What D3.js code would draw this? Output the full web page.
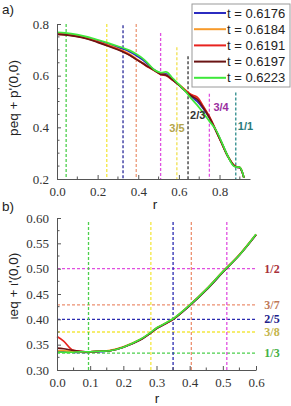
<!DOCTYPE html>
<html>
<head>
<meta charset="utf-8">
<script src="https://cdn.jsdelivr.net/npm/d3@7"></script>
<style>
  body { margin: 0; background: #fff; }
  svg { display: block; }
  .tick-label { font-family: "Liberation Serif", serif; font-size: 13px; fill: #333; }
  .ax-title { font-family: "Liberation Sans", Arial, sans-serif; font-size: 13.5px; fill: #222; }
</style>
</head>
<body>
<svg id="chart" width="291" height="406"></svg>
<script>
// ---- data: panel a) peq + p'(0,0) vs r
const seriesNames = ["t = 0.6176", "t = 0.6184", "t = 0.6191", "t = 0.6197", "t = 0.6223"]
const seriesColors = ["#2b2bc0", "#f79a2a", "#e8231f", "#6a1414", "#3ee83a"]
const rA = [0, 0.04, 0.1, 0.15, 0.2, 0.25, 0.3, 0.33, 0.36, 0.39, 0.42, 0.45, 0.48, 0.51, 0.54, 0.57, 0.6, 0.63, 0.66, 0.69, 0.72, 0.75, 0.78, 0.81, 0.84, 0.87, 0.89, 0.9, 0.91, 0.92]
const pBlue   = [0.764, 0.762, 0.755, 0.746, 0.735, 0.723, 0.709, 0.702, 0.692, 0.678, 0.662, 0.642, 0.622, 0.609, 0.606, 0.585, 0.565, 0.543, 0.52, 0.5, 0.472, 0.437, 0.392, 0.342, 0.29, 0.252, 0.245, 0.244, 0.23, 0.205]
const pOrange = [0.762, 0.76, 0.753, 0.744, 0.732, 0.719, 0.704, 0.694, 0.682, 0.666, 0.65, 0.634, 0.62, 0.607, 0.602, 0.584, 0.566, 0.546, 0.526, 0.512, 0.478, 0.44, 0.391, 0.341, 0.29, 0.254, 0.246, 0.245, 0.231, 0.205]
const pRed    = [0.761, 0.759, 0.752, 0.743, 0.731, 0.717, 0.702, 0.692, 0.679, 0.663, 0.648, 0.632, 0.619, 0.605, 0.599, 0.582, 0.565, 0.545, 0.527, 0.517, 0.482, 0.442, 0.392, 0.34, 0.289, 0.254, 0.245, 0.245, 0.23, 0.205]
const pDark   = [0.76, 0.758, 0.751, 0.742, 0.729, 0.715, 0.7, 0.69, 0.678, 0.663, 0.649, 0.634, 0.62, 0.606, 0.601, 0.583, 0.563, 0.541, 0.522, 0.508, 0.476, 0.438, 0.39, 0.34, 0.289, 0.253, 0.245, 0.244, 0.23, 0.205]
const pGreen  = [0.768, 0.766, 0.759, 0.75, 0.739, 0.727, 0.714, 0.706, 0.697, 0.684, 0.668, 0.646, 0.622, 0.612, 0.614, 0.59, 0.566, 0.541, 0.512, 0.486, 0.456, 0.424, 0.393, 0.344, 0.29, 0.25, 0.246, 0.246, 0.232, 0.205]
const seriesA = [pBlue, pOrange, pRed, pDark, pGreen]

// rational surfaces in a): r position, top value, colour, label
const surfA = [
  { r: 0.045, top: 0.8, c: "#4cd04c", label: "" },
  { r: 0.245, top: 0.8, c: "#f4e840", label: "" },
  { r: 0.325, top: 0.795, c: "#2a2a9a", label: "" },
  { r: 0.39, top: 0.8, c: "#ec9a78", label: "" },
  { r: 0.51, top: 0.765, c: "#e050e0", label: "" },
  { r: 0.59, top: 0.71, c: "#f0e050", label: "3/5", lc: "#b4a44a", lr: 0.553, lv: 0.382 },
  { r: 0.645, top: 0.675, c: "#333333", label: "2/3", lc: "#333333", lr: 0.655, lv: 0.432 },
  { r: 0.75, top: 0.53, c: "#e050e0", label: "3/4", lc: "#9a2ea0", lr: 0.77, lv: 0.463 },
  { r: 0.88, top: 0.535, c: "#2a8a8a", label: "1/1", lc: "#2a7a7a", lr: 0.89, lv: 0.39 }
]
const ticksAx = [0, 0.2, 0.4, 0.6, 0.8]
const ticksAy = [0.2, 0.4, 0.6, 0.8]

// ---- data: panel b) ieq + i'(0,0) vs r
const rB = [0, 0.02, 0.045, 0.07, 0.1, 0.13, 0.16, 0.2, 0.25, 0.28, 0.3, 0.35, 0.4, 0.45, 0.5, 0.55, 0.6]
const iBlue   = [0.336, 0.336, 0.335, 0.335, 0.335, 0.336, 0.338, 0.345, 0.359, 0.372, 0.382, 0.4, 0.427, 0.458, 0.493, 0.527, 0.567]
const iOrange = [0.338, 0.338, 0.337, 0.336, 0.336, 0.337, 0.339, 0.346, 0.36, 0.373, 0.383, 0.401, 0.428, 0.459, 0.494, 0.528, 0.568]
const iRed    = [0.366, 0.357, 0.34, 0.337, 0.336, 0.337, 0.338, 0.345, 0.359, 0.372, 0.382, 0.4, 0.428, 0.459, 0.494, 0.527, 0.567]
const iDark   = [0.343, 0.342, 0.339, 0.337, 0.336, 0.337, 0.338, 0.345, 0.359, 0.372, 0.382, 0.4, 0.427, 0.458, 0.493, 0.527, 0.567]
const iGreen  = [0.335, 0.335, 0.335, 0.336, 0.336, 0.337, 0.338, 0.345, 0.36, 0.373, 0.383, 0.401, 0.428, 0.459, 0.494, 0.527, 0.568]
const seriesB = [iBlue, iOrange, iRed, iDark, iGreen]

const vSurfB = [
  { r: 0.095, c: "#4cd04c" },
  { r: 0.283, c: "#f4e840" },
  { r: 0.35, c: "#2a2ab0" },
  { r: 0.405, c: "#ec9070" },
  { r: 0.512, c: "#e050e0" }
]
const hSurfB = [
  { v: 0.5, c: "#e050e0", label: "1/2", lc: "#a8303a" },
  { v: 0.4286, c: "#ec9070", label: "3/7", lc: "#c07858" },
  { v: 0.4, c: "#2a2ab0", label: "2/5", lc: "#20208a" },
  { v: 0.375, c: "#f4e840", label: "3/8", lc: "#c4b44a" },
  { v: 0.3333, c: "#4cd04c", label: "1/3", lc: "#44b044" }
]
const ticksBx = [0, 0.1, 0.2, 0.3, 0.4, 0.5, 0.6]
const ticksBy = [0.3, 0.35, 0.4, 0.45, 0.5, 0.55, 0.6]

const svg = d3.select("#chart")

// ===== panel a
const xA = d3.scaleLinear().domain([0, 0.95]).range([57, 250])
const yA = d3.scaleLinear().domain([0.2, 0.8]).range([179, 24])

const gA = svg.append("g")
surfA.forEach(s => {
  gA.append("line")
    .attr("x1", xA(s.r)).attr("x2", xA(s.r))
    .attr("y1", yA(s.top)).attr("y2", yA(0.2))
    .attr("stroke", s.c).attr("stroke-width", 1.3)
    .attr("stroke-dasharray", "3,2")
})

const lineA = d3.line().x((d, i) => xA(rA[i])).y(d => yA(d)).curve(d3.curveCatmullRom)
seriesA.forEach((s, k) => {
  gA.append("path")
    .attr("d", lineA(s))
    .attr("fill", "none")
    .attr("stroke", seriesColors[k])
    .attr("stroke-width", 1.7)
})

surfA.filter(s => s.label).forEach(s => {
  gA.append("text")
    .attr("x", xA(s.lr)).attr("y", yA(s.lv))
    .attr("font-family", "Liberation Sans, Arial, sans-serif")
    .attr("font-size", 11)
    .attr("font-weight", "bold")
    .attr("fill", s.lc)
    .text(s.label)
})

// axes a)
const axAx = gA.append("g").attr("transform", `translate(0,${yA(0.2)})`)
  .call(d3.axisBottom(xA).tickValues(ticksAx).tickFormat(d3.format(".1f")).tickSizeInner(-4).tickSizeOuter(0).tickPadding(8))
axAx.append("g").selectAll("line").data(d3.range(0.1, 0.95, 0.2))
  .join("line").attr("x1", d => xA(d)).attr("x2", d => xA(d)).attr("y1", 0).attr("y2", -2.5).attr("stroke", "#555")
const axAy = gA.append("g").attr("transform", `translate(${xA(0)},0)`)
  .call(d3.axisLeft(yA).tickValues(ticksAy).tickFormat(d3.format(".1f")).tickSizeInner(-4).tickSizeOuter(0).tickPadding(8))
axAy.append("g").selectAll("line").data([0.25, 0.3, 0.35, 0.45, 0.5, 0.55, 0.65, 0.7, 0.75])
  .join("line").attr("y1", d => yA(d)).attr("y2", d => yA(d)).attr("x1", 0).attr("x2", 2.5).attr("stroke", "#555")

// legend
const leg = svg.append("g").attr("transform", "translate(192,4)")
leg.append("rect").attr("width", 98).attr("height", 83)
  .attr("fill", "#fff").attr("stroke", "#9a9a9a").attr("stroke-width", 1)
seriesNames.forEach((n, i) => {
  const yy = 9 + i * 16.2
  leg.append("line").attr("x1", 2).attr("x2", 34).attr("y1", yy).attr("y2", yy)
    .attr("stroke", seriesColors[i]).attr("stroke-width", 2)
  leg.append("text").attr("x", 35).attr("y", yy + 4.5)
    .attr("font-family", "Liberation Sans, Arial, sans-serif").attr("font-size", 13)
    .attr("fill", "#222").text(n)
})

svg.append("text").attr("class", "ax-title").attr("x", 155).attr("y", 209).attr("text-anchor", "middle").text("r")
svg.append("text").attr("class", "ax-title")
  .attr("transform", "translate(18,98) rotate(-90)")
  .attr("text-anchor", "middle").text("peq + p'(0,0)")
svg.append("text").attr("class", "ax-title").attr("x", 2).attr("y", 14).text("a)")

// ===== panel b
const xB = d3.scaleLinear().domain([0, 0.6]).range([57, 256])
const yB = d3.scaleLinear().domain([0.3, 0.6]).range([370, 218])
const gB = svg.append("g")

hSurfB.forEach(s => {
  gB.append("line")
    .attr("x1", xB(0)).attr("x2", xB(0.6))
    .attr("y1", yB(s.v)).attr("y2", yB(s.v))
    .attr("stroke", s.c).attr("stroke-width", 1.3).attr("stroke-dasharray", "3,2")
  gB.append("text")
    .attr("x", 272).attr("y", yB(s.v) + 4)
    .attr("text-anchor", "middle")
    .attr("font-family", "Liberation Serif, serif").attr("font-size", 12)
    .attr("font-weight", "bold")
    .attr("fill", s.lc).text(s.label)
})
vSurfB.forEach(s => {
  gB.append("line")
    .attr("x1", xB(s.r)).attr("x2", xB(s.r))
    .attr("y1", yB(0.592)).attr("y2", yB(0.3))
    .attr("stroke", s.c).attr("stroke-width", 1.3).attr("stroke-dasharray", "3,2")
})

const lineB = d3.line().x((d, i) => xB(rB[i])).y(d => yB(d)).curve(d3.curveCatmullRom)
seriesB.forEach((s, k) => {
  gB.append("path")
    .attr("d", lineB(s))
    .attr("fill", "none")
    .attr("stroke", seriesColors[k])
    .attr("stroke-width", 1.7)
})

const axBx = gB.append("g").attr("transform", `translate(0,${yB(0.3)})`)
  .call(d3.axisBottom(xB).tickValues(ticksBx).tickFormat(d3.format(".1f")).tickSizeInner(-4).tickSizeOuter(0).tickPadding(8))
axBx.append("g").selectAll("line").data(d3.range(0.05, 0.6, 0.1))
  .join("line").attr("x1", d => xB(d)).attr("x2", d => xB(d)).attr("y1", 0).attr("y2", -2.5).attr("stroke", "#555")
const axBy = gB.append("g").attr("transform", `translate(${xB(0)},0)`)
  .call(d3.axisLeft(yB).tickValues(ticksBy).tickFormat(d3.format(".2f")).tickSizeInner(-4).tickSizeOuter(0).tickPadding(8))
axBy.append("g").selectAll("line").data(d3.range(0.325, 0.6, 0.05))
  .join("line").attr("y1", d => yB(d)).attr("y2", d => yB(d)).attr("x1", 0).attr("x2", 2.5).attr("stroke", "#555")

svg.append("text").attr("class", "ax-title").attr("x", 157).attr("y", 403).attr("text-anchor", "middle").text("r")
svg.append("text").attr("class", "ax-title")
  .attr("transform", "translate(18,286) rotate(-90)")
  .attr("text-anchor", "middle").text("ιeq + ι'(0,0)")
svg.append("text").attr("class", "ax-title").attr("x", 2).attr("y", 211).text("b)")

// shared axis styling
svg.selectAll(".domain").attr("stroke", "#555")
svg.selectAll(".tick line").attr("stroke", "#555")
svg.selectAll(".tick text").attr("class", "tick-label").attr("font-family", null).attr("font-size", null)
</script>
</body>
</html>
